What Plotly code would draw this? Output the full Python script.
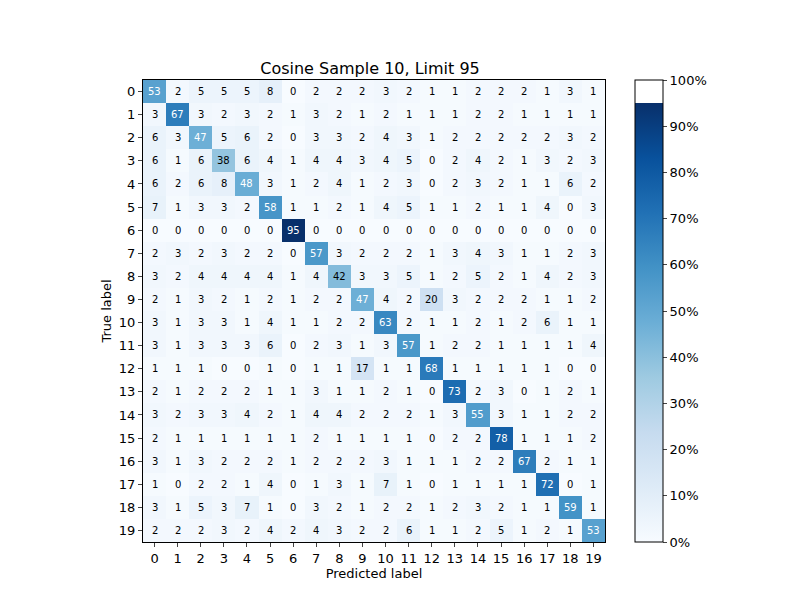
import plotly.graph_objects as go

labels = [str(i) for i in range(20)]
cm = [
    [53, 2, 5, 5, 5, 8, 0, 2, 2, 2, 3, 2, 1, 1, 2, 2, 2, 1, 3, 1],
    [3, 67, 3, 2, 3, 2, 1, 3, 2, 1, 2, 1, 1, 1, 2, 2, 1, 1, 1, 1],
    [6, 3, 47, 5, 6, 2, 0, 3, 3, 2, 4, 3, 1, 2, 2, 2, 2, 2, 3, 2],
    [6, 1, 6, 38, 6, 4, 1, 4, 4, 3, 4, 5, 0, 2, 4, 2, 1, 3, 2, 3],
    [6, 2, 6, 8, 48, 3, 1, 2, 4, 1, 2, 3, 0, 2, 3, 2, 1, 1, 6, 2],
    [7, 1, 3, 3, 2, 58, 1, 1, 2, 1, 4, 5, 1, 1, 2, 1, 1, 4, 0, 3],
    [0, 0, 0, 0, 0, 0, 95, 0, 0, 0, 0, 0, 0, 0, 0, 0, 0, 0, 0, 0],
    [2, 3, 2, 3, 2, 2, 0, 57, 3, 2, 2, 2, 1, 3, 4, 3, 1, 1, 2, 3],
    [3, 2, 4, 4, 4, 4, 1, 4, 42, 3, 3, 5, 1, 2, 5, 2, 1, 4, 2, 3],
    [2, 1, 3, 2, 1, 2, 1, 2, 2, 47, 4, 2, 20, 3, 2, 2, 2, 1, 1, 2],
    [3, 1, 3, 3, 1, 4, 1, 1, 2, 2, 63, 2, 1, 1, 2, 1, 2, 6, 1, 1],
    [3, 1, 3, 3, 3, 6, 0, 2, 3, 1, 3, 57, 1, 2, 2, 1, 1, 1, 1, 4],
    [1, 1, 1, 0, 0, 1, 0, 1, 1, 17, 1, 1, 68, 1, 1, 1, 1, 1, 0, 0],
    [2, 1, 2, 2, 2, 1, 1, 3, 1, 1, 2, 1, 0, 73, 2, 3, 0, 1, 2, 1],
    [3, 2, 3, 3, 4, 2, 1, 4, 4, 2, 2, 2, 1, 3, 55, 3, 1, 1, 2, 2],
    [2, 1, 1, 1, 1, 1, 1, 2, 1, 1, 1, 1, 0, 2, 2, 78, 1, 1, 1, 2],
    [3, 1, 3, 2, 2, 2, 1, 2, 2, 2, 3, 1, 1, 1, 2, 2, 67, 2, 1, 1],
    [1, 0, 2, 2, 1, 4, 0, 1, 3, 1, 7, 1, 0, 1, 1, 1, 1, 72, 0, 1],
    [3, 1, 5, 3, 7, 1, 0, 3, 2, 1, 2, 2, 1, 2, 3, 2, 1, 1, 59, 1],
    [2, 2, 2, 3, 2, 4, 2, 4, 3, 2, 2, 6, 1, 1, 2, 5, 1, 2, 1, 53],
]
limit = 95

# matplotlib Blues squeezed into 0..limit, white above
blues = ["#f7fbff", "#deebf7", "#c6dbef", "#9ecae1", "#6baed6",
         "#4292c6", "#2171b5", "#08519c", "#08306b"]
cs = [[i / 8 * limit / 100, c] for i, c in enumerate(blues)]
cs += [[limit / 100 + 0.0001, "#ffffff"], [1, "#ffffff"]]

fig = go.Figure(go.Heatmap(
    z=cm, x=labels, y=labels, zmin=0, zmax=100, colorscale=cs,
    hoverinfo="skip",
    colorbar=dict(x=1.065, xanchor="left", y=0, yanchor="bottom", len=1,
                  xpad=0, ypad=0,
                  thickness=28, outlinewidth=1, outlinecolor="black",
                  tickvals=list(range(0, 101, 10)),
                  ticktext=[f"{v}%" for v in range(0, 101, 10)],
                  ticks="outside", ticklen=4,
                  tickfont=dict(size=13, color="black")),
))

ann = []
for i, row in enumerate(cm):
    for j, v in enumerate(row):
        ann.append(dict(x=labels[j], y=labels[i], text=str(v), showarrow=False,
                        font=dict(size=10, color="white" if v > 45 else "black")))

fig.update_layout(
    width=800, height=600,
    margin=dict(l=135, r=203, t=72, b=66, autoexpand=False),
    paper_bgcolor="white", plot_bgcolor="white",
    font=dict(family="DejaVu Sans", color="black"),
    title=dict(text="Cosine Sample 10, Limit 95", x=0.4525, xanchor="center",
               y=0.89, yanchor="bottom", font=dict(size=16)),
    annotations=ann,
    xaxis=dict(title=dict(text="Predicted label", font=dict(size=13), standoff=4),
               ticks="outside", ticklen=4, tickfont=dict(size=13),
               showline=True, linecolor="black", mirror=True),
    yaxis=dict(title=dict(text="True label", font=dict(size=13), standoff=4),
               ticks="outside", ticklen=4, tickfont=dict(size=13),
               autorange="reversed", showline=True, linecolor="black", mirror=True),
)

fig.write_html("out.html")
